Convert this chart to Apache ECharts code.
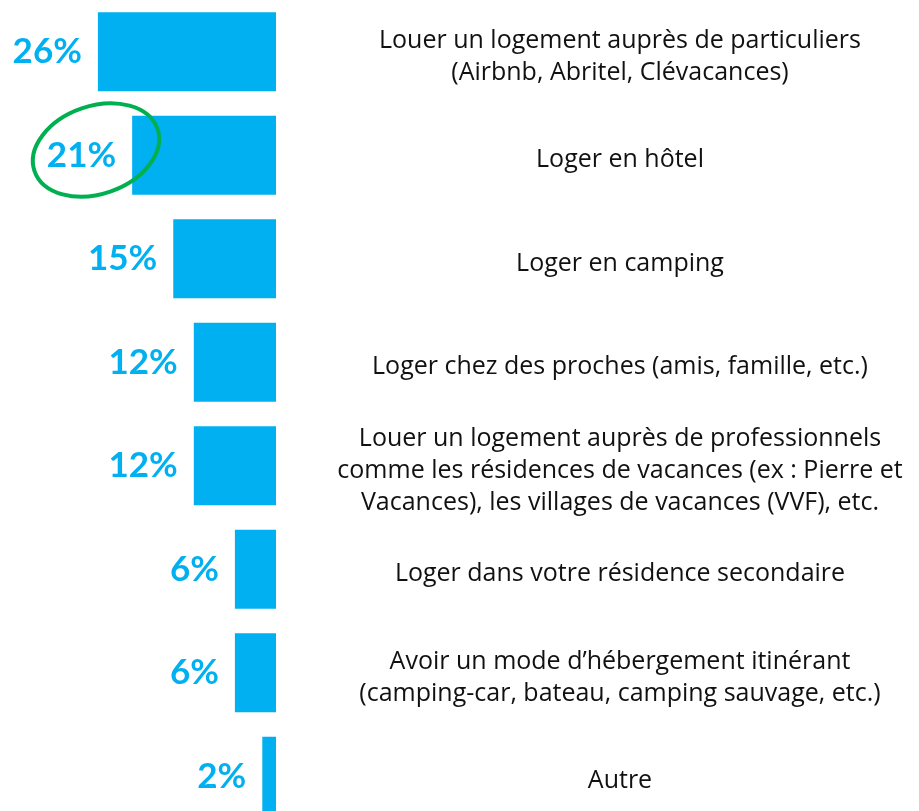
<!DOCTYPE html>
<html>
<head>
<meta charset="utf-8">
<script src="https://cdn.jsdelivr.net/npm/echarts@6/dist/echarts.min.js"></script>
<style>
  html, body { margin: 0; padding: 0; background: #fff; }
  #main { width: 919px; height: 811px; }
</style>
</head>
<body>
<div id="main"></div>
<script>
// categories (top to bottom)
const categories = [
    "Louer un logement auprès de particuliers\n(Airbnb, Abritel, Clévacances)",
    "Loger en hôtel",
    "Loger en camping",
    "Loger chez des proches (amis, famille, etc.)",
    "Louer un logement auprès de professionnels\ncomme les résidences de vacances (ex : Pierre et\nVacances), les villages de vacances (VVF), etc.",
    "Loger dans votre résidence secondaire",
    "Avoir un mode d’hébergement itinérant\n(camping-car, bateau, camping sauvage, etc.)",
    "Autre"
];
const values = [26, 21, 15, 12, 12, 6, 6, 2];

const blue = '#00B0F0';

let myChart = echarts.init(document.getElementById('main'));
let option = {
    animation: false,
    grid: {
        left: 2,
        top: 0,
        width: 274,
        height: 828,
        outerBoundsMode: 'none',
        containLabel: false
    },
    xAxis: {
        type: 'value',
        inverse: true,
        min: 0,
        max: 40,
        show: false
    },
    yAxis: {
        type: 'category',
        inverse: true,
        position: 'right',
        data: categories,
        axisLine: { show: false },
        axisTick: { show: false },
        axisLabel: {
            margin: 344,
            align: 'center',
            formatter: function (v) {
                // shift each line a little lower, as in the slide
                return v.split('\n').map(function (s) { return '{t|' + s + '}'; }).join('\n');
            },
            rich: {
                t: {
                    fontFamily: 'Open Sans',
                    fontSize: 25,
                    lineHeight: 32,
                    color: '#111',
                    padding: [10, 0, 0, 0]
                }
            }
        }
    },
    series: [
        {
            type: 'bar',
            data: values,
            barWidth: 79,
            itemStyle: { color: blue },
            label: {
                show: true,
                position: 'left',
                distance: 16,
                formatter: '{c}%',
                fontFamily: 'Lato',
                fontWeight: 'bold',
                fontSize: 35,
                color: blue
            }
        }
    ],
    // green circle round the 21% label
    graphic: [
        {
            type: 'ellipse',
            x: 96,
            y: 150,
            rotation: 0.33,
            shape: { cx: 0, cy: 0, rx: 65, ry: 44 },
            style: { fill: 'none', stroke: '#00B050', lineWidth: 4 },
            z: 100
        }
    ]
};
myChart.setOption(option);
</script>
</body>
</html>
